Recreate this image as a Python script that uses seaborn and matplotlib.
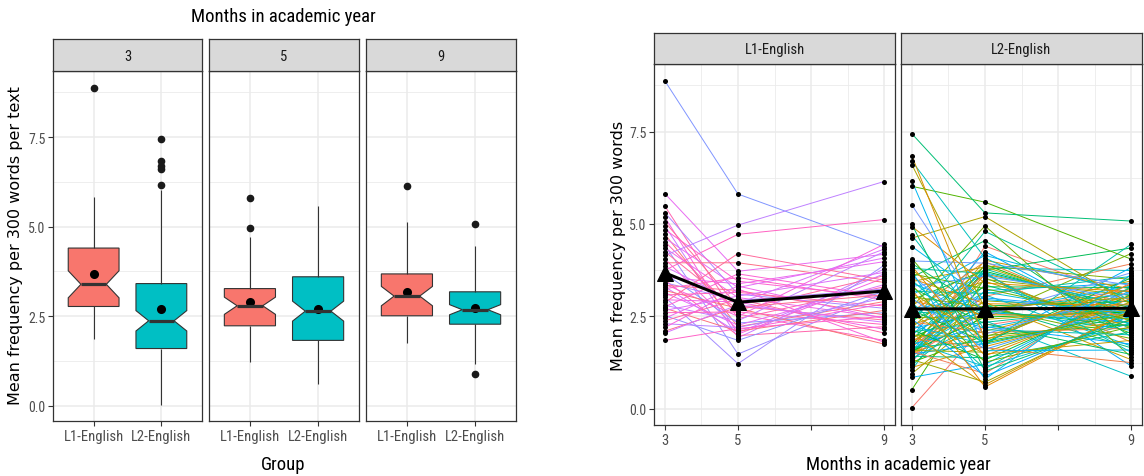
import numpy as np
import pandas as pd
import matplotlib
matplotlib.use("Agg")
import matplotlib.pyplot as plt
import seaborn as sns

# ---------------------------------------------------------------- data
MONTHS = [3, 5, 9]
GROUPS = ["L1-English", "L2-English"]
MONTH_TICKS = [3, 5, 7, 9]
MONTH_TICK_LABELS = ["3", "5", "", "9"]
Y_TICKS = [0, 2.5, 5, 7.5]

# L1-English writers: mean frequency per 300 words at months 3, 5 and 9
L1_m3 = [8.87, 5.82, 5.48, 5.30, 5.18, 5.05, 4.95, 4.85, 4.72, 4.62,
         4.52, 4.42, 4.35, 4.25, 4.15, 4.05, 3.95, 3.85, 3.75, 3.65,
         3.56, 3.48, 3.41, 3.37, 3.34, 3.30, 3.25, 3.20, 3.14, 3.08,
         3.02, 2.95, 2.88, 2.80, 2.76, 2.72, 2.66, 2.60, 2.52, 2.45,
         2.38, 2.30, 2.20, 2.10, 2.05, 1.85]
L1_m5 = [5.81, 3.72, 2.44, 3.10, 2.02, 2.77, 1.92, 3.45, 2.22, 3.28,
         2.56, 1.48, 3.01, 2.67, 4.97, 2.14, 3.95, 2.85, 4.72, 2.32,
         3.38, 1.98, 2.93, 2.50, 3.20, 2.06, 3.55, 2.72, 2.26, 3.15,
         1.22, 2.89, 4.20, 2.38, 3.65, 2.10, 3.05, 2.62, 1.85, 3.32,
         2.97, 2.20, 3.24, 2.75, 2.81, 2.17]
L1_m9 = [4.38, 4.18, 3.30, 2.72, 3.54, 2.40, 3.78, 3.02, 2.90, 4.08,
         1.85, 3.12, 2.47, 3.60, 6.15, 2.84, 3.42, 4.32, 5.12, 2.60,
         3.98, 2.22, 3.24, 4.45, 2.54, 3.65, 2.95, 1.75, 3.36, 2.78,
         3.88, 2.15, 3.48, 4.25, 3.04, 2.66, 3.69, 2.28, 3.18, 2.44,
         2.05, 2.99, 1.80, 3.08, 2.34, 2.50]

# L2-English writers
L2_m3 = [0.03, 0.52, 0.85, 0.95, 1.05, 1.12, 1.18, 1.22, 1.26, 1.30,
         1.33, 1.36, 1.39, 1.42, 1.44, 1.46, 1.48, 1.50, 1.52, 1.53,
         1.54, 1.55, 1.56, 1.57, 1.58, 1.60, 1.63, 1.66, 1.69, 1.72,
         1.75, 1.78, 1.81, 1.84, 1.87, 1.90, 1.93, 1.96, 1.99, 2.02,
         2.05, 2.08, 2.11, 2.14, 2.17, 2.20, 2.24, 2.28, 2.32, 2.35,
         2.39, 2.43, 2.47, 2.51, 2.55, 2.59, 2.63, 2.67, 2.71, 2.75,
         2.79, 2.83, 2.87, 2.91, 2.95, 2.99, 3.03, 3.08, 3.13, 3.18,
         3.23, 3.27, 3.31, 3.35, 3.40, 3.44, 3.48, 3.52, 3.56, 3.60,
         3.65, 3.70, 3.75, 3.80, 3.86, 3.93, 4.00, 4.06, 4.39, 4.62,
         4.70, 4.93, 4.99, 5.51, 6.02, 6.16, 6.60, 6.70, 6.84, 7.44]
L2_m5 = [2.26, 3.54, 1.20, 2.58, 3.81, 1.68, 2.81, 4.40, 1.98, 3.20,
         0.72, 2.38, 3.64, 1.38, 2.62, 3.90, 1.76, 2.92, 3.08, 2.10,
         3.35, 0.95, 2.48, 3.70, 1.53, 2.70, 4.02, 1.83, 3.04, 3.72,
         2.22, 3.50, 1.14, 2.56, 3.78, 1.65, 2.78, 4.25, 1.94, 3.16,
         0.65, 2.34, 3.63, 1.32, 2.61, 3.87, 1.74, 2.88, 4.80, 2.06,
         3.30, 0.88, 2.45, 3.68, 1.48, 2.68, 3.98, 1.80, 3.00, 4.95,
         2.18, 3.45, 1.08, 2.54, 3.75, 1.61, 2.75, 4.15, 1.90, 3.12,
         0.59, 2.30, 3.59, 1.26, 2.60, 3.84, 1.71, 2.84, 4.55, 2.02,
         3.25, 0.80, 2.42, 3.66, 1.43, 2.66, 3.94, 1.78, 2.96, 5.20,
         2.14, 3.40, 1.02, 2.51, 5.59, 1.57, 2.72, 4.08, 1.86, 5.30]
L2_m9 = [2.85, 2.04, 3.21, 2.44, 3.74, 2.69, 1.65, 3.03, 2.28, 3.40,
         2.61, 0.88, 2.87, 2.08, 3.22, 2.46, 3.82, 2.71, 1.70, 3.05,
         2.30, 3.43, 2.62, 1.16, 2.89, 2.12, 3.24, 2.48, 3.92, 2.73,
         1.75, 3.07, 2.32, 3.46, 2.63, 1.25, 2.91, 2.15, 3.26, 2.50,
         2.67, 2.75, 1.80, 3.09, 2.34, 3.50, 2.64, 1.33, 2.93, 2.18,
         3.28, 2.52, 4.20, 2.77, 1.85, 3.11, 2.36, 3.54, 2.65, 1.40,
         2.95, 2.20, 3.30, 2.54, 4.35, 2.79, 1.90, 3.13, 2.38, 3.58,
         2.66, 1.47, 2.97, 2.22, 3.32, 2.56, 4.45, 2.81, 1.95, 3.15,
         2.40, 3.63, 2.67, 1.53, 2.99, 2.24, 3.34, 2.58, 2.60, 2.83,
         2.00, 3.17, 2.42, 3.68, 4.05, 1.59, 3.01, 2.26, 3.37, 5.08]

# ---------------------------------------------------------------- long table
rows = []
for group, series in (("L1-English", (L1_m3, L1_m5, L1_m9)),
                      ("L2-English", (L2_m3, L2_m5, L2_m9))):
    for month, values in zip(MONTHS, series):
        for i, v in enumerate(values):
            rows.append({"group": group, "student": f"{group[:2]}-{i:03d}",
                         "month": month, "value": v})
df = pd.DataFrame(rows)


# ---------------------------------------------------------------- colours
def hcl(h, c=100.0, l=65.0):
    """Polar LUV (HCL) colour to an sRGB tuple."""
    hr = np.deg2rad(h)
    u, v = c * np.cos(hr), c * np.sin(hr)
    xn, yn, zn = 95.047, 100.0, 108.883
    un = 4 * xn / (xn + 15 * yn + 3 * zn)
    vn = 9 * yn / (xn + 15 * yn + 3 * zn)
    y = yn * ((l + 16) / 116) ** 3
    up = u / (13 * l) + un
    vp = v / (13 * l) + vn
    x = 9 * y * up / (4 * vp)
    z = -x / 3 - 5 * y + 3 * y / vp
    x, y, z = x / 100, y / 100, z / 100
    lin = np.array([3.240479 * x - 1.537150 * y - 0.498535 * z,
                    -0.969256 * x + 1.875992 * y + 0.041556 * z,
                    0.055648 * x - 0.204043 * y + 1.057311 * z])
    rgb = np.where(lin > 0.0031308, 1.055 * np.abs(lin) ** (1 / 2.4) - 0.055, 12.92 * lin)
    return tuple(np.clip(rgb, 0, 1))


BOX_COLORS = {"L1-English": "#F8766D", "L2-English": "#00BFC4"}

n_l2, n_l1 = len(L2_m3), len(L1_m3)
n_all = n_l1 + n_l2
student_colors = {}
for i in range(n_l2):
    k = (i * 43) % n_l2
    student_colors[f"L2-{i:03d}"] = hcl(15 + 360 * k / n_all)
for i in range(n_l1):
    k = n_l2 + (i * 17) % n_l1
    student_colors[f"L1-{i:03d}"] = hcl(15 + 360 * k / n_all)

# ---------------------------------------------------------------- style
sns.set_theme(style="white")
plt.rcParams["font.family"] = ["Roboto Condensed", "DejaVu Sans"]

GRID = "#EBEBEB"
DARK = "#333333"
TICKLAB = "#4D4D4D"
WIDE = "DejaVu Sans"

W, H = 1144, 477
fig = plt.figure(figsize=(W / 100, H / 100), dpi=100)


def frac(x0, y0, x1, y1):
    return [x0 / W, 1 - y1 / H, (x1 - x0) / W, (y1 - y0) / H]


def style_panel(ax):
    ax.set_facecolor("white")
    ax.set_axisbelow(True)
    ax.grid(which="major", color=GRID, linewidth=1.1)
    ax.grid(which="minor", color=GRID, linewidth=0.6)
    for s in ax.spines.values():
        s.set_color(DARK)
        s.set_linewidth(0.9)
        s.set_visible(True)
    ax.tick_params(which="major", length=3.5, width=0.8, color=DARK,
                   labelcolor=TICKLAB, labelsize=10.5, pad=2.5,
                   bottom=True, left=True)
    ax.tick_params(axis="y", labelsize=10, pad=2)
    ax.tick_params(which="minor", length=0, bottom=False, left=False)
    ax.set_xlabel("")
    ax.set_ylabel("")


def strip(rect, label):
    sa = fig.add_axes(rect)
    sa.set_facecolor("#D9D9D9")
    sa.set_xticks([])
    sa.set_yticks([])
    for s in sa.spines.values():
        s.set_color(DARK)
        s.set_linewidth(0.9)
    sa.text(0.5, 0.47, label, ha="center", va="center", fontsize=10.5,
            color="#1A1A1A", transform=sa.transAxes)


# ---------------------------------------------------------------- boxplots
left_x = [(53, 202), (209, 359), (366, 516)]
for j, month in enumerate(MONTHS):
    x0, x1 = left_x[j]
    ax = fig.add_axes(frac(x0, 72, x1, 422))
    d = df[df["month"] == month]
    sns.boxplot(data=d, x="group", y="value", hue="group", order=GROUPS,
                hue_order=GROUPS, palette=BOX_COLORS, saturation=1,
                notch=True, width=0.75, showcaps=False,
                linecolor=DARK, linewidth=0.8, fliersize=4.5, legend=False,
                flierprops=dict(marker="o", markerfacecolor="#1A1A1A",
                                markeredgecolor="#1A1A1A"),
                medianprops=dict(linewidth=2.3, color=DARK), ax=ax)
    sns.pointplot(data=d, x="group", y="value", order=GROUPS,
                  estimator="mean", errorbar=None, linestyle="none",
                  marker="o", color="black", markersize=4.5, ax=ax)
    ax.set_xlim(-0.6, 1.6)
    ax.set_ylim(-0.43, 9.35)
    ax.set_yticks(Y_TICKS)
    ax.set_yticks([1.25, 3.75, 6.25, 8.75], minor=True)
    style_panel(ax)
    if j > 0:
        ax.tick_params(axis="y", left=False, labelleft=False)
    strip(frac(x0, 40, x1, 72), str(month))

fig.text(283 / W, 1 - 17 / H, "Months in academic year", ha="center",
         va="center", fontsize=13.5, color="black")
fig.text(283 / W, 1 - 465 / H, "Group", ha="center", va="center",
         fontsize=13.5, color="black")
fig.text(16 / W, 1 - 246 / H, "Mean frequency per 300 words per text",
         rotation=90, ha="center", va="center", fontsize=11.5,
         family=WIDE, color="black")

# ---------------------------------------------------------------- trajectories
right_x = [(654, 895), (901, 1142)]
for j, group in enumerate(GROUPS):
    x0, x1 = right_x[j]
    ax = fig.add_axes(frac(x0, 65, x1, 426))
    d = df[df["group"] == group]
    pal = {s: student_colors[s] for s in d["student"].unique()}
    sns.lineplot(data=d, x="month", y="value", hue="student", palette=pal,
                 estimator=None, legend=False, linewidth=0.7, ax=ax)
    sns.scatterplot(data=d, x="month", y="value", color="black", s=13,
                    linewidth=0, legend=False, zorder=3, ax=ax)
    sns.lineplot(data=d, x="month", y="value", estimator="mean",
                 errorbar=None, color="black", linewidth=2.2, marker="^",
                 markersize=11, markeredgecolor="black", zorder=4, ax=ax)
    ax.set_xlim(2.7, 9.3)
    ax.set_ylim(-0.44, 9.33)
    ax.set_xticks(MONTH_TICKS)
    ax.set_xticklabels(MONTH_TICK_LABELS)
    ax.set_xticks([4, 6, 8], minor=True)
    ax.set_yticks(Y_TICKS)
    ax.set_yticks([1.25, 3.75, 6.25, 8.75], minor=True)
    style_panel(ax)
    if j > 0:
        ax.tick_params(axis="y", left=False, labelleft=False)
    strip(frac(x0, 34, x1, 65), group)

fig.text(898 / W, 1 - 465 / H, "Months in academic year", ha="center",
         va="center", fontsize=13.5, color="black")
fig.text(619 / W, 1 - 246 / H, "Mean frequency per 300 words",
         rotation=90, ha="center", va="center", fontsize=11.5,
         family=WIDE, color="black")

fig.savefig("out.png", dpi=100, facecolor="white")
